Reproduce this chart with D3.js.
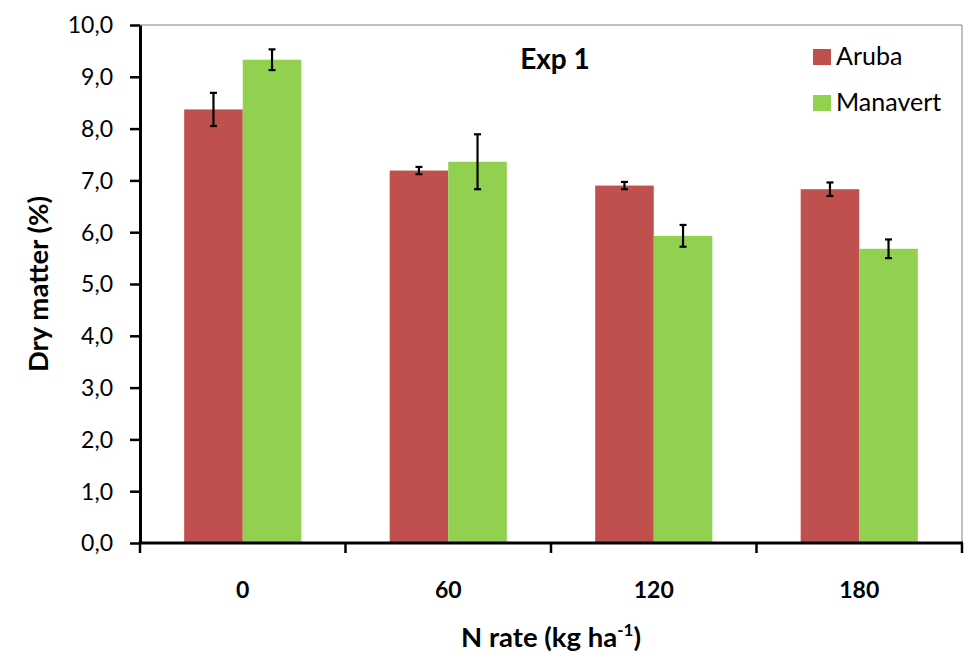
<!DOCTYPE html>
<html><head><meta charset="utf-8">
<script src="https://cdn.jsdelivr.net/npm/d3@7"></script>
<style>
html,body{margin:0;padding:0;background:#fff;}
text{font-family:Lato,"Open Sans",sans-serif;}
</style></head>
<body><svg id="c" width="978" height="672"></svg>
<script>
const categories = ["0","60","120","180"];
const seriesNames = ["Aruba","Manavert"];
const aruba = [8.37, 7.19, 6.90, 6.83];
const manavert = [9.33, 7.36, 5.93, 5.68];
const arubaErr = [0.32, 0.07, 0.07, 0.13];
const manavertErr = [0.20, 0.53, 0.21, 0.18];
const yTicks = [0,1,2,3,4,5,6,7,8,9,10];
const colors = ["#C0504D","#92D050"];

const svg = d3.select("#c");
const L = 140, R = 962, T = 25, B = 543;
const x = d3.scaleBand().domain(categories).range([L,R]).paddingInner(0.43).paddingOuter(0.215);
const xs = d3.scaleBand().domain(seriesNames).range([0,x.bandwidth()]);
const y = d3.scaleLinear().domain([0,10]).range([B,T]);

// frame
svg.append("line").attr("x1",L).attr("x2",R).attr("y1",T).attr("y2",T).attr("stroke","#808080").attr("stroke-width",1);
svg.append("line").attr("x1",R).attr("x2",R).attr("y1",T).attr("y2",B).attr("stroke","#808080").attr("stroke-width",1);

const data = categories.map((c,i)=>[
  {cat:c, s:seriesNames[0], v:aruba[i], e:arubaErr[i], col:colors[0]},
  {cat:c, s:seriesNames[1], v:manavert[i], e:manavertErr[i], col:colors[1]}
]).flat();

svg.selectAll("rect.bar").data(data).enter().append("rect")
  .attr("x",d=>x(d.cat)+xs(d.s)).attr("width",xs.bandwidth())
  .attr("y",d=>y(d.v)).attr("height",d=>B-y(d.v)).attr("fill",d=>d.col);

// error bars
const cx = d=>x(d.cat)+xs(d.s)+xs.bandwidth()/2;
const eg = svg.selectAll("g.err").data(data).enter().append("g").attr("stroke","#000").attr("stroke-width",2.2);
eg.append("line").attr("x1",cx).attr("x2",cx)
  .attr("y1",d=>y(d.v+d.e)).attr("y2",d=>y(d.v-d.e));
eg.append("line").attr("x1",d=>cx(d)-3.5).attr("x2",d=>cx(d)+3.5)
  .attr("y1",d=>y(d.v+d.e)).attr("y2",d=>y(d.v+d.e));
eg.append("line").attr("x1",d=>cx(d)-3.5).attr("x2",d=>cx(d)+3.5)
  .attr("y1",d=>y(d.v-d.e)).attr("y2",d=>y(d.v-d.e));

// y axis
const yAxis = d3.axisLeft(y).tickValues(yTicks).tickSize(10).tickSizeOuter(0)
  .tickFormat(d=>d3.format(".1f")(d).replace(".",","));
const ga = svg.append("g").attr("transform",`translate(${L},0)`).call(yAxis);
ga.select(".domain").attr("stroke","#000").attr("stroke-width",3);
ga.selectAll(".tick line").attr("stroke","#000").attr("stroke-width",2.5);
ga.selectAll(".tick text").attr("x",-27).attr("dy","0.34em").attr("font-size",23).attr("fill","#000");

// x axis
const xb = [L, ...categories.slice(1).map(c=>x(c)-x.step()*x.paddingInner()/2), R];
svg.append("line").attr("x1",L-1.5).attr("x2",R+1).attr("y1",B).attr("y2",B).attr("stroke","#000").attr("stroke-width",3);
svg.selectAll("line.xt").data(xb).enter().append("line")
  .attr("x1",d=>d).attr("x2",d=>d).attr("y1",B).attr("y2",B+10).attr("stroke","#000").attr("stroke-width",2.5);
svg.selectAll("text.xl").data(categories).enter().append("text")
  .attr("x",d=>x(d)+x.bandwidth()/2).attr("y",598).attr("text-anchor","middle")
  .attr("font-size",23).attr("font-weight","bold").text(d=>d);

// axis titles
const xt = svg.append("text").attr("x",551).attr("y",647).attr("text-anchor","middle")
  .attr("font-size",27.5).attr("font-weight","bold");
xt.append("tspan").text("N rate (kg ha");
xt.append("tspan").attr("font-size",17).attr("dy",-11).text("-1");
xt.append("tspan").attr("dy",11).text(")");

svg.append("text").attr("transform",`translate(48,${(T+B)/2}) rotate(-90)`).attr("text-anchor","middle")
  .attr("font-size",27.5).attr("font-weight","bold").text("Dry matter (%)");

// title
svg.append("text").attr("x",555).attr("y",69).attr("text-anchor","middle")
  .attr("font-size",28).attr("font-weight","bold").text("Exp 1");

// legend
const lg = svg.selectAll("g.lg").data(seriesNames).enter().append("g")
  .attr("transform",(d,i)=>`translate(813,${49+i*46})`);
lg.append("rect").attr("width",18).attr("height",16).attr("fill",(d,i)=>colors[i]);
lg.append("text").attr("x",23).attr("y",16).attr("font-size",25).attr("fill","#000").text(d=>d);
</script></body></html>
